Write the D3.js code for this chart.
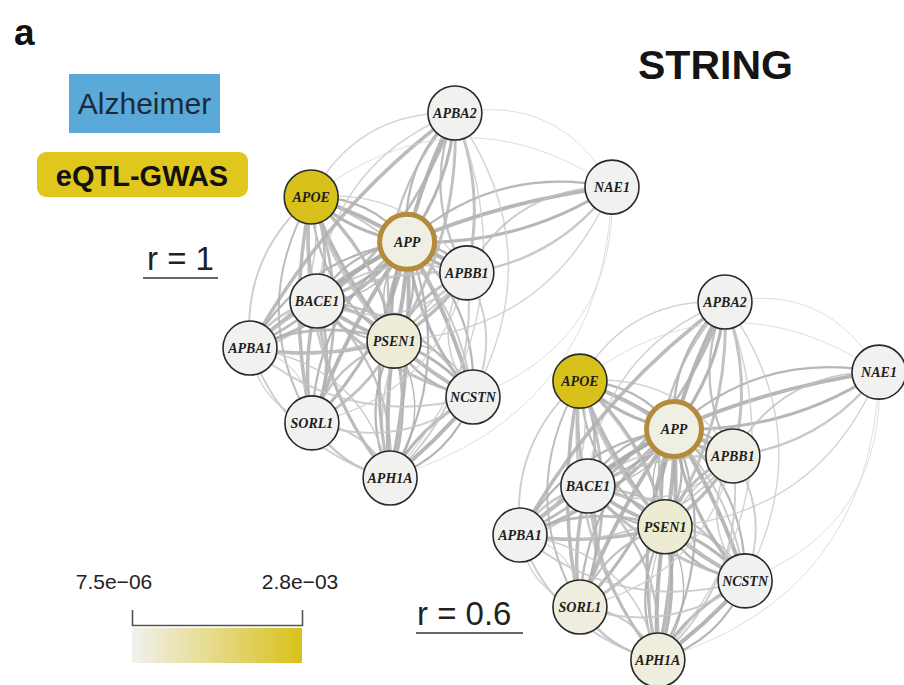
<!DOCTYPE html>
<html>
<head>
<meta charset="utf-8">
<script src="https://cdn.jsdelivr.net/npm/d3@7"></script>
<style>
  body { margin: 0; background: #fff; }
  svg { display: block; }
</style>
</head>
<body>
<div id="chart"></div>
<script>
// genes in the network (same order for layouts and values)
const genes = ["APBA2", "NAE1", "APOE", "APP", "APBB1", "BACE1", "PSEN1", "APBA1", "NCSTN", "SORL1", "APH1A"];

// layout coordinates (0-100 layout units) for each network
const layoutR1  = [[56.6, 0], [100, 20.3], [16.9, 23.0], [43.4, 35.3], [59.9, 43.8], [18.5, 51.5], [39.8, 62.5], [0, 64.4], [61.6, 77.8], [17.1, 84.9], [38.7, 100]];
const layoutR06 = [[57.1, 0], [100, 19.6], [16.7, 22.1], [42.9, 35.5], [59.3, 43.0], [18.9, 51.4], [40.4, 62.8], [0, 65.1], [62.7, 77.9], [16.7, 85.2], [38.4, 100]];

// eQTL-GWAS values per gene
const valuesR1  = [7.5e-6, 7.5e-6, 2.8e-3, 1.5e-4, 7.5e-6, 7.5e-6, 3.2e-4, 7.5e-6, 7.5e-6, 7.5e-6, 7.5e-6];
const valuesR06 = [7.5e-6, 7.5e-6, 2.8e-3, 1.5e-4, 1.2e-4, 7.5e-6, 3.8e-4, 7.5e-6, 7.5e-6, 2.4e-4, 2.4e-4];

const seedGenes = ["APP"];
const valueRange = [7.5e-6, 2.8e-3];
const rLabels = ["r = 1", "r = 0.6"];

// STRING edges: [gene a, gene b, combined score, evidence channels]
const edges = [
  ["APP", "APOE", 0.999, 3], ["APP", "PSEN1", 0.999, 4], ["APP", "BACE1", 0.999, 4],
  ["APP", "APBB1", 0.999, 3], ["APP", "APBA1", 0.999, 3], ["APP", "APBA2", 0.999, 3],
  ["APP", "APH1A", 0.99, 3], ["APP", "NCSTN", 0.99, 3], ["APP", "SORL1", 0.99, 3],
  ["APP", "NAE1", 0.98, 3],
  ["PSEN1", "APH1A", 0.999, 4], ["PSEN1", "NCSTN", 0.999, 4], ["APH1A", "NCSTN", 0.999, 3],
  ["PSEN1", "BACE1", 0.95, 3], ["PSEN1", "APOE", 0.95, 3], ["PSEN1", "APBB1", 0.9, 2],
  ["PSEN1", "APBA1", 0.9, 2], ["PSEN1", "APBA2", 0.8, 2], ["PSEN1", "SORL1", 0.8, 2],
  ["PSEN1", "NAE1", 0.5, 1],
  ["APOE", "BACE1", 0.9, 2], ["APOE", "SORL1", 0.9, 3], ["APOE", "APH1A", 0.7, 2],
  ["APOE", "NCSTN", 0.7, 2], ["APOE", "APBA1", 0.6, 2], ["APOE", "APBA2", 0.5, 1],
  ["APOE", "APBB1", 0.5, 1],
  ["BACE1", "SORL1", 0.9, 2], ["BACE1", "APH1A", 0.8, 2], ["BACE1", "NCSTN", 0.8, 2],
  ["BACE1", "APBA1", 0.7, 2], ["BACE1", "APBB1", 0.6, 2], ["BACE1", "APBA2", 0.5, 1],
  ["APBA1", "APBA2", 0.9, 2], ["APBA1", "APBB1", 0.7, 2], ["APBA1", "SORL1", 0.5, 2],
  ["APBA1", "APH1A", 0.6, 2], ["APBA1", "NCSTN", 0.6, 1],
  ["APBA2", "APBB1", 0.8, 2], ["APBA2", "NCSTN", 0.5, 1], ["APBA2", "APH1A", 0.5, 1],
  ["APBA2", "NAE1", 0.4, 1],
  ["APBB1", "NCSTN", 0.6, 2], ["APBB1", "APH1A", 0.6, 2], ["APBB1", "NAE1", 0.7, 2],
  ["APBB1", "SORL1", 0.5, 1],
  ["SORL1", "APH1A", 0.7, 2], ["SORL1", "NCSTN", 0.6, 1],
  ["NAE1", "NCSTN", 0.4, 1], ["NAE1", "APH1A", 0.4, 1], ["NAE1", "APOE", 0.4, 1]
];

const width = 904, height = 685;
const nodeR = 27;

const svg = d3.select("#chart").append("svg")
  .attr("width", width)
  .attr("height", height);

const color = d3.scaleLinear().domain(valueRange).range(["#f1f1ef", "#d8c11a"]);
const edgeWidth = d3.scaleLinear().domain([0.4, 1]).range([0.9, 4]);
const edgeColor = d3.scaleLinear().domain([0.4, 1]).range(["#d4d4d4", "#a9a9a9"]);

// two networks, each with its own position scales
const networks = [
  { layout: layoutR1, values: valuesR1,
    x: d3.scaleLinear().domain([0, 100]).range([250, 612]),
    y: d3.scaleLinear().domain([0, 100]).range([113, 478]) },
  { layout: layoutR06, values: valuesR06,
    x: d3.scaleLinear().domain([0, 100]).range([520, 879]),
    y: d3.scaleLinear().domain([0, 100]).range([302, 660]) }
];

networks.forEach(net => {
  const nodes = genes.map((g, i) => ({
    id: g, x: net.x(net.layout[i][0]), y: net.y(net.layout[i][1]), value: net.values[i]
  }));
  const byId = new Map(nodes.map(n => [n.id, n]));
  const cx = d3.mean(nodes, n => n.x), cy = d3.mean(nodes, n => n.y);

  // expand each edge into its evidence curves
  const curves = [];
  edges.forEach(([a, b, score, k]) => {
    const s = byId.get(a), t = byId.get(b);
    for (let i = 0; i < k; i++) curves.push({ s, t, score, i });
  });

  const g = svg.append("g");

  g.selectAll("path.edge")
    .data(curves)
    .join("path")
    .attr("class", "edge")
    .attr("fill", "none")
    .attr("stroke", d => edgeColor(d.score))
    .attr("stroke-width", d => edgeWidth(d.score) * (1 - 0.22 * d.i))
    .attr("stroke-opacity", 0.85)
    .attr("d", d => {
      const dx = d.t.x - d.s.x, dy = d.t.y - d.s.y;
      const len = Math.hypot(dx, dy);
      let px = -dy / len, py = dx / len;
      const mx = (d.s.x + d.t.x) / 2, my = (d.s.y + d.t.y) / 2;
      // make the perpendicular point away from the network centre
      if ((mx - cx) * px + (my - cy) * py < 0) { px = -px; py = -py; }
      const side = d.i % 2 === 0 ? 1 : -1;
      const amt = side * (0.06 + 0.09 * d.i + (1 - d.score) * 0.5);
      const qx = mx + px * amt * len, qy = my + py * amt * len;
      return `M${d.s.x},${d.s.y}Q${qx},${qy} ${d.t.x},${d.t.y}`;
    });

  const node = g.selectAll("g.node")
    .data(nodes)
    .join("g")
    .attr("class", "node")
    .attr("transform", d => `translate(${d.x},${d.y})`);

  node.append("circle")
    .attr("r", d => seedGenes.includes(d.id) ? 27.5 : nodeR)
    .attr("fill", d => color(d.value))
    .attr("stroke", d => seedGenes.includes(d.id) ? "#b38b3a" : "#2a2a2a")
    .attr("stroke-width", d => seedGenes.includes(d.id) ? 5 : 1.6);

  node.append("text")
    .attr("text-anchor", "middle")
    .attr("dy", "0.35em")
    .attr("font-family", "Liberation Serif, Times New Roman, serif")
    .attr("font-style", "italic")
    .attr("font-weight", "bold")
    .attr("font-size", 14)
    .attr("fill", "#1e1e1e")
    .text(d => d.id);
});

// panel letter and title
svg.append("text").attr("x", 14).attr("y", 45)
  .attr("font-family", "Liberation Sans, Arial, sans-serif")
  .attr("font-weight", "bold").attr("font-size", 37).attr("fill", "#111")
  .text("a");

svg.append("text").attr("x", 638).attr("y", 79)
  .attr("font-family", "Liberation Sans, Arial, sans-serif")
  .attr("font-weight", "bold").attr("font-size", 41).attr("fill", "#151515")
  .text("STRING");

// legend boxes
svg.append("rect").attr("x", 69).attr("y", 74).attr("width", 151).attr("height", 59)
  .attr("fill", "#5ba9d9");
svg.append("text").attr("x", 144.5).attr("y", 114).attr("text-anchor", "middle")
  .attr("font-family", "Liberation Sans, Arial, sans-serif")
  .attr("font-size", 30).attr("fill", "#1b2a38")
  .text("Alzheimer");

svg.append("rect").attr("x", 37).attr("y", 152).attr("width", 211).attr("height", 45)
  .attr("rx", 9).attr("fill", "#e0c71e");
svg.append("text").attr("x", 142).attr("y", 186).attr("text-anchor", "middle")
  .attr("font-family", "Liberation Sans, Arial, sans-serif")
  .attr("font-weight", "bold").attr("font-size", 29).attr("fill", "#111")
  .text("eQTL-GWAS");

// r labels with underline
const rPos = [{ x: 147, y: 270, x0: 143, x1: 218 }, { x: 417, y: 625, x0: 416, x1: 523 }];
rLabels.forEach((lab, i) => {
  const p = rPos[i];
  svg.append("text").attr("x", p.x).attr("y", p.y)
    .attr("font-family", "Liberation Sans, Arial, sans-serif")
    .attr("font-size", 33).attr("fill", "#222")
    .text(lab);
  svg.append("line").attr("x1", p.x0).attr("x2", p.x1)
    .attr("y1", p.y + 8).attr("y2", p.y + 8)
    .attr("stroke", "#333").attr("stroke-width", 1.5);
});

// colour bar
const cbx = d3.scaleLinear().domain(valueRange).range([132, 302]);
const grad = svg.append("defs").append("linearGradient").attr("id", "cbar");
d3.range(0, 1.0001, 0.1).forEach(t => {
  grad.append("stop")
    .attr("offset", t)
    .attr("stop-color", color(valueRange[0] + t * (valueRange[1] - valueRange[0])));
});
svg.append("rect").attr("x", cbx(valueRange[0])).attr("y", 628)
  .attr("width", cbx(valueRange[1]) - cbx(valueRange[0])).attr("height", 35)
  .attr("fill", "url(#cbar)");

const cbAxis = svg.append("g").attr("transform", "translate(0,625)")
  .call(d3.axisBottom(cbx).tickValues([]).tickSizeOuter(-15));
cbAxis.select(".domain").attr("stroke", "#555").attr("stroke-width", 1.6);

const fmt = v => v.toExponential(1).replace(/e([+-])(\d)$/, "e$10$2").replace("-", "\u2212");
svg.selectAll("text.cbl")
  .data(valueRange)
  .join("text")
  .attr("class", "cbl")
  .attr("x", (d, i) => cbx(d) + (i === 0 ? -18 : -2))
  .attr("y", 589)
  .attr("text-anchor", "middle")
  .attr("font-family", "Liberation Sans, Arial, sans-serif")
  .attr("font-size", 21)
  .attr("fill", "#222")
  .text(fmt);
</script>
</body>
</html>
